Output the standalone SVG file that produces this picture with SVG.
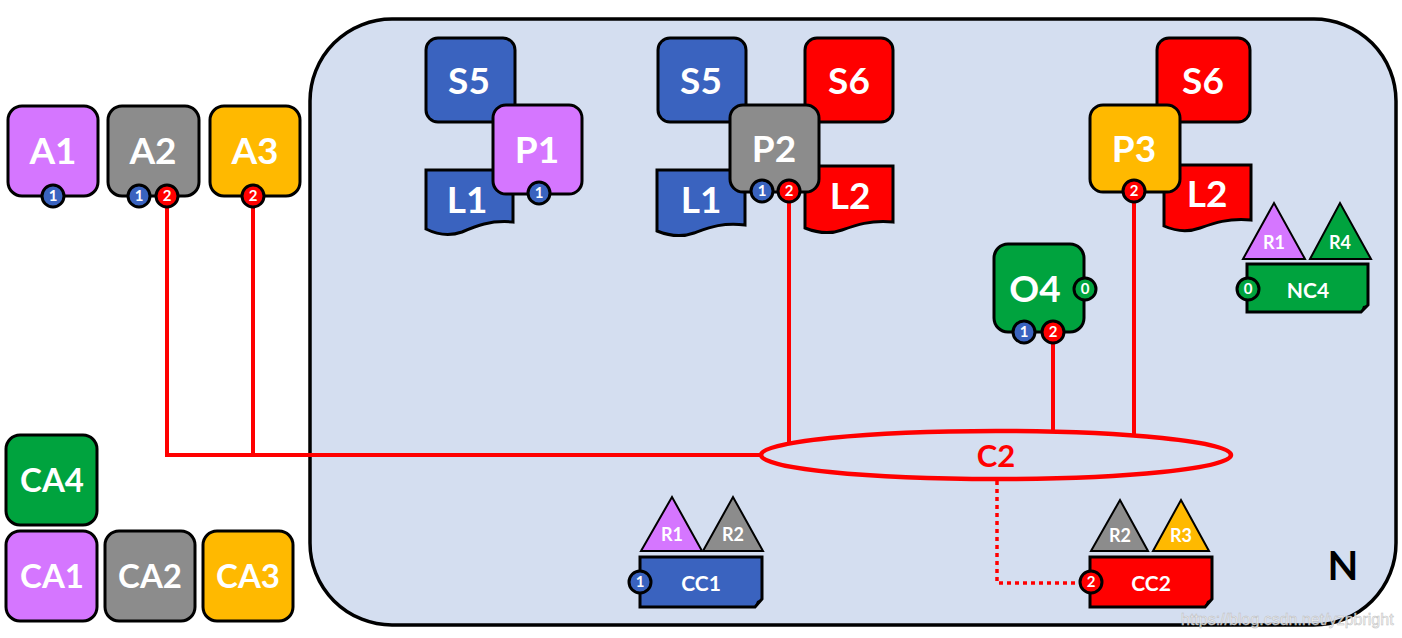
<svg xmlns="http://www.w3.org/2000/svg" width="1402" height="638" viewBox="0 0 1402 638">
<style>
.box{stroke:#000;stroke-width:3}
.t{font-family:Lato,"Open Sans","Liberation Sans",sans-serif;font-weight:700;fill:#fff;text-anchor:middle}
.big{font-size:37px}
.mid{font-size:33px}
.sm{font-size:21px}
.tri{font-size:18px}
.bt{font-size:15px}
.bad{stroke:#000;stroke-width:3}
.tr{stroke:#000;stroke-width:2}
.pu{fill:#D576FF}.gy{fill:#8C8C8C}.or{fill:#FFB900}.gr{fill:#00A33E}.bl{fill:#3A63BF}.rd{fill:#FF0000}
.wire{stroke:#FF0000;stroke-width:4;fill:none}
</style>
<rect id="N" x="310" y="19" width="1086" height="606" rx="82" fill="#D4DEF0" stroke="#000" stroke-width="3.5"/>
<text class="t" x="1343" y="580" style="fill:#000;font-size:40px">N</text>

<g id="connectors">
<polyline class="wire" points="167,207 167,455 762,455"/>
<line class="wire" x1="253" y1="207" x2="253" y2="455"/>
<line class="wire" x1="789" y1="202" x2="789" y2="442"/>
<line class="wire" x1="1134" y1="202" x2="1134" y2="436"/>
<line class="wire" x1="1053" y1="343" x2="1053" y2="433"/>
<polyline points="997,481 997,583 1080,583" fill="none" stroke="#FF0000" stroke-width="3.5" stroke-dasharray="4,4"/>
</g>

<g id="C2">
<ellipse cx="996" cy="455" rx="235" ry="24" fill="none" stroke="#FF0000" stroke-width="4.5"/>
<text class="t" x="996" y="467" style="fill:#FF0000;font-size:31px">C2</text>
</g>

<g id="A1"><rect class="box pu" x="8" y="106" width="90" height="90" rx="14"/><text class="t big" x="53" y="164">A1</text>
<circle class="bad bl" cx="53" cy="196" r="11"/><text class="t bt" x="53" y="201">1</text></g>
<g id="A2"><rect class="box gy" x="108" y="106" width="91" height="90" rx="14"/><text class="t big" x="153" y="164">A2</text>
<circle class="bad bl" cx="139" cy="196" r="11"/><text class="t bt" x="139" y="201">1</text>
<circle class="bad rd" cx="167" cy="196" r="11"/><text class="t bt" x="167" y="201">2</text></g>
<g id="A3"><rect class="box or" x="210" y="106" width="90" height="90" rx="14"/><text class="t big" x="255" y="164">A3</text>
<circle class="bad rd" cx="253" cy="196" r="11"/><text class="t bt" x="253" y="201">2</text></g>

<g id="S5a"><rect class="box bl" x="426" y="38" width="89" height="84" rx="12"/><text class="t big" x="469" y="94">S5</text></g>
<g id="L1a"><path class="box bl" d="M426,170 H513 V222 C490,220 476,226 462,232 C448,237 436,234 426,229 Z"/><text class="t big" x="467" y="213">L1</text></g>
<g id="P1"><rect class="box pu" x="493" y="105" width="89" height="89" rx="13"/><text class="t big" x="537" y="163">P1</text>
<circle class="bad bl" cx="539" cy="193" r="11"/><text class="t bt" x="539" y="198">1</text></g>

<g id="S5b"><rect class="box bl" x="658" y="38" width="88" height="84" rx="12"/><text class="t big" x="701" y="94">S5</text></g>
<g id="S6a"><rect class="box rd" x="805" y="38" width="88" height="84" rx="12"/><text class="t big" x="849" y="94">S6</text></g>
<g id="L1b"><path class="box bl" d="M657,170 H745 V225 C722,222 708,228 694,233 C680,238 667,235 657,231 Z"/><text class="t big" x="701" y="213">L1</text></g>
<g id="L2a"><path class="box rd" d="M805,166 H893 V222 C870,220 856,225 842,230 C828,235 815,232 805,228 Z"/><text class="t big" x="850" y="209">L2</text></g>
<g id="P2"><rect class="box gy" x="730" y="105" width="89" height="87" rx="13"/><text class="t big" x="774" y="162">P2</text>
<circle class="bad bl" cx="762" cy="191" r="11"/><text class="t bt" x="762" y="196">1</text>
<circle class="bad rd" cx="789" cy="191" r="11"/><text class="t bt" x="789" y="196">2</text></g>

<g id="S6b"><rect class="box rd" x="1157" y="38" width="93" height="84" rx="12"/><text class="t big" x="1203" y="94">S6</text></g>
<g id="L2b"><path class="box rd" d="M1164,165 H1251 V220 C1228,218 1214,223 1200,228 C1186,233 1173,230 1164,226 Z"/><text class="t big" x="1207" y="207">L2</text></g>
<g id="P3"><rect class="box or" x="1090" y="105" width="90" height="87" rx="13"/><text class="t big" x="1134" y="162">P3</text>
<circle class="bad rd" cx="1134" cy="191" r="11"/><text class="t bt" x="1134" y="196">2</text></g>

<g id="O4"><rect class="box gr" x="994" y="244" width="90" height="88" rx="14"/><text class="t big" x="1035" y="302">O4</text>
<circle class="bad gr" cx="1085" cy="289" r="11"/><text class="t bt" x="1085" y="294">0</text>
<circle class="bad bl" cx="1024" cy="332" r="11"/><text class="t bt" x="1024" y="337">1</text>
<circle class="bad rd" cx="1053" cy="332" r="11"/><text class="t bt" x="1053" y="337">2</text></g>

<g id="NC4">
<polygon class="tr pu" points="1243,259 1274,203 1305,259"/><text class="t tri" x="1274" y="249">R1</text>
<polygon class="tr gr" points="1310,259 1340,203 1371,259"/><text class="t tri" x="1340" y="249">R4</text>
<path class="box gr" d="M1247,264 H1368 V305 L1361,312 H1247 Z"/><path d="M1361,312 L1363,306 L1368,305 Z" fill="#000"/>
<circle class="bad gr" cx="1248" cy="289" r="11"/><text class="t bt" x="1248" y="294">0</text>
<text class="t sm" x="1308" y="298">NC4</text></g>

<g id="CC1">
<polygon class="tr pu" points="641,551 672,497 702,551"/><text class="t tri" x="672" y="541">R1</text>
<polygon class="tr gy" points="703,551 733,497 763,551"/><text class="t tri" x="733" y="541">R2</text>
<path class="box bl" d="M640,557 H762 V599 L755,607 H640 Z"/><path d="M755,607 L757,601 L762,599 Z" fill="#000"/>
<circle class="bad bl" cx="640" cy="582" r="11"/><text class="t bt" x="640" y="587">1</text>
<text class="t sm" x="701" y="591">CC1</text></g>

<g id="CC2">
<polygon class="tr gy" points="1091,551 1120,500 1148,551"/><text class="t tri" x="1120" y="542">R2</text>
<polygon class="tr or" points="1153,551 1181,500 1209,551"/><text class="t tri" x="1181" y="542">R3</text>
<path class="box rd" d="M1090,557 H1212 V599 L1205,607 H1090 Z"/><path d="M1205,607 L1207,601 L1212,599 Z" fill="#000"/>
<circle class="bad rd" cx="1091" cy="582" r="11"/><text class="t bt" x="1091" y="587">2</text>
<text class="t sm" x="1151" y="591">CC2</text></g>

<g id="CA4"><rect class="box gr" x="6" y="435" width="91" height="90" rx="14"/><text class="t mid" x="52" y="492">CA4</text></g>
<g id="CA1"><rect class="box pu" x="6" y="531" width="91" height="90" rx="14"/><text class="t mid" x="52" y="588">CA1</text></g>
<g id="CA2"><rect class="box gy" x="105" y="531" width="90" height="90" rx="14"/><text class="t mid" x="150" y="588">CA2</text></g>
<g id="CA3"><rect class="box or" x="203" y="531" width="90" height="90" rx="14"/><text class="t mid" x="248" y="588">CA3</text></g>

<text x="1181" y="625" style="font-family:'Liberation Sans',Arial,sans-serif;font-size:16px;fill:#f4f4f4;stroke:#b8b8b8;stroke-width:0.5;opacity:0.9">https://blog.csdn.net/yzpbright</text>
</svg>
